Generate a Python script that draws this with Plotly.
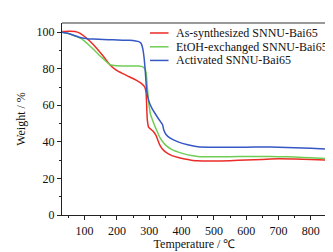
import plotly.graph_objects as go

# As-synthesized SNNU-Bai65
t_red = [30, 50, 70, 85, 100, 115, 128, 143, 158, 178, 198, 218, 238, 258, 278, 286, 290, 294, 298, 304, 312, 320, 326, 332, 340, 350, 370, 390, 410, 430, 450, 500, 550, 600, 650, 700, 750, 800, 850]
w_red = [100.3, 100.5, 100.4, 99.5, 97.6, 95.3, 93.0, 90.0, 86.8, 82.2, 79.2, 77.3, 75.6, 73.9, 71.6, 70.0, 67.0, 52.0, 48.0, 47.0, 45.8, 43.8, 41.2, 38.5, 36.2, 34.5, 32.5, 31.4, 30.6, 30.0, 29.6, 29.5, 29.7, 30.1, 30.4, 30.7, 30.6, 30.4, 30.0]

# EtOH-exchanged SNNU-Bai65
t_green = [30, 50, 68, 83, 98, 113, 128, 143, 158, 178, 198, 218, 248, 268, 280, 286, 290, 294, 298, 304, 312, 320, 334, 349, 369, 390, 410, 430, 450, 500, 550, 600, 650, 700, 750, 800, 850]
w_green = [100.0, 99.3, 98.0, 97.0, 95.4, 93.0, 90.5, 87.8, 85.3, 82.3, 81.6, 81.5, 81.5, 81.5, 81.0, 80.0, 78.0, 70.0, 62.0, 55.0, 51.0, 47.5, 42.0, 38.5, 35.9, 34.4, 33.3, 32.5, 32.0, 31.8, 31.9, 32.0, 32.0, 31.9, 31.7, 31.3, 30.8]

# Activated SNNU-Bai65
t_blue = [30, 50, 68, 83, 98, 113, 128, 158, 188, 218, 238, 258, 268, 275, 280, 284, 288, 292, 298, 308, 318, 329, 337, 341, 345, 352, 365, 389, 419, 450, 500, 550, 600, 650, 700, 750, 800, 850]
w_blue = [100.0, 99.3, 98.2, 97.2, 96.6, 96.3, 96.2, 96.0, 95.8, 95.6, 95.5, 95.2, 94.8, 93.8, 91.0, 86.0, 78.0, 68.0, 62.7, 58.4, 55.5, 52.5, 50.5, 49.5, 46.5, 44.0, 42.0, 40.0, 38.4, 37.3, 37.0, 37.1, 37.1, 37.2, 37.1, 36.8, 36.5, 36.0]

x_ticks = [100, 200, 300, 400, 500, 600, 700, 800]
y_ticks = [0, 20, 40, 60, 80, 100]

names = ["As-synthesized SNNU-Bai65", "EtOH-exchanged SNNU-Bai65", "Activated SNNU-Bai65"]
colors = ["#ec2b26", "#6fcd55", "#3558c4"]
xs_all = [t_red, t_green, t_blue]
ys_all = [w_red, w_green, w_blue]

font = dict(family="Liberation Serif", size=12, color="#111")

fig = go.Figure()
shapes = []
annotations = []
legend_rows = [0.948, 0.876, 0.805]
for name, xs, ys, col, ly in zip(names, xs_all, ys_all, colors, legend_rows):
    fig.add_trace(go.Scatter(x=xs, y=ys, mode="lines", name=name, showlegend=False,
                             line=dict(color=col, width=1.5, shape="spline", smoothing=0.6)))
    shapes.append(dict(type="line", xref="paper", yref="paper", x0=0.332, x1=0.402,
                       y0=ly, y1=ly, line=dict(color=col, width=1.5)))
    annotations.append(dict(xref="paper", yref="paper", x=0.422, y=ly, text=name,
                            showarrow=False, xanchor="left", yanchor="middle", font=font))

shapes += [
    dict(type="line", xref="paper", yref="paper", x0=0, x1=1, y0=1, y1=1,
         line=dict(color="#777", width=1.5)),
    dict(type="line", xref="paper", yref="paper", x0=1, x1=1, y0=0, y1=1,
         line=dict(color="#777", width=1.5)),
]

fig.update_layout(
    width=333, height=252,
    margin=dict(l=48, r=14, t=15, b=35),
    paper_bgcolor="white", plot_bgcolor="white",
    font=font,
    showlegend=False,
    xaxis=dict(range=[30, 850], tickvals=x_ticks, ticks="outside", ticklen=4,
               tickcolor="#222", showline=True, linecolor="#222", linewidth=1.2,
               showgrid=False, zeroline=False, mirror=False,
               minor=dict(dtick=50, tick0=0, ticks="outside", ticklen=2, tickcolor="#222"),
               title=dict(text="Temperature / ℃", font=font, standoff=2)),
    yaxis=dict(range=[0, 105], tickvals=y_ticks, ticks="outside", ticklen=4,
               tickcolor="#222", showline=True, linecolor="#222", linewidth=1.2,
               showgrid=False, zeroline=False, mirror=False,
               minor=dict(dtick=10, tick0=0, ticks="outside", ticklen=2, tickcolor="#222"),
               title=dict(text="Weight / %", font=font, standoff=8)),
    shapes=shapes,
    annotations=annotations,
)

fig.write_html("out.html")
